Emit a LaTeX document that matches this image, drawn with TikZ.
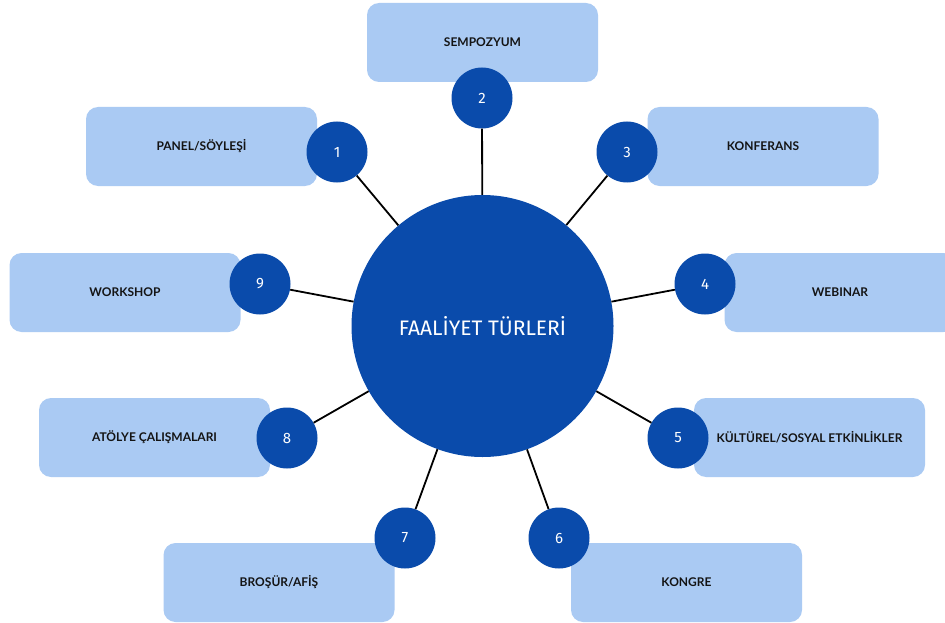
\documentclass[tikz,border=0pt]{standalone}
\usepackage{fontspec}
\setmainfont{Lato}
\newfontfamily\numfont{Fira Sans}
\usepackage{tikz}

\definecolor{hubblue}{HTML}{0A4BAB}
\definecolor{boxblue}{HTML}{AACAF3}
\definecolor{labelink}{HTML}{141414}

\begin{document}
\begin{tikzpicture}[x=1pt,y=-1pt]
        \tikzstyle{every node} = [inner sep=0pt]
        \tikzstyle{box} = [rectangle, rounded corners=12pt, fill=boxblue,
            minimum width=231pt, minimum height=79pt,
            font=\fontsize{12}{14}\selectfont\bfseries, text=labelink]
        \tikzstyle{num} = [circle, fill=hubblue, minimum size=61pt,
            font=\numfont\fontsize{15}{18}\selectfont, text=white]
        \tikzstyle{hub} = [circle, fill=hubblue, minimum size=262pt,
            font=\numfont\fontsize{21}{24}\selectfont, text=white]
        \clip (0,0) rectangle (945,623);

        \node[box] (b1) at (201.5,146.5) {PANEL/SÖYLEŞİ};
        \node[box] (b2) at (482.5,42.5) {SEMPOZYUM};
        \node[box] (b3) at (763,146.5) {KONFERANS};
        \node[box] (b4) at (840,292.5) {WEBINAR};
        \node[box] (b5) at (809.5,437.5) {KÜLTÜREL/SOSYAL ETKİNLİKLER};
        \node[box] (b6) at (686.5,582.5) {KONGRE};
        \node[box] (b7) at (279,582.5) {BROŞÜR/AFİŞ};
        \node[box] (b8) at (154.5,437.5) {ATÖLYE ÇALIŞMALARI};
        \node[box] (b9) at (125,292.5) {WORKSHOP};

        \foreach \n/\x/\y in {1/337/152, 2/482/98, 3/627/152, 4/705/284,
                5/678/438, 6/559/538, 7/405/538, 8/287/438, 9/260/284}
            \node[num] (\n) at (\x,\y) {\n};

        \node[hub] (c) at (482.5,326) {FAALİYET TÜRLERİ};

        \foreach \to in {1,...,9}
            \draw[line width=1.8pt] (c) -- (\to);
      \end{tikzpicture}
\end{document}
